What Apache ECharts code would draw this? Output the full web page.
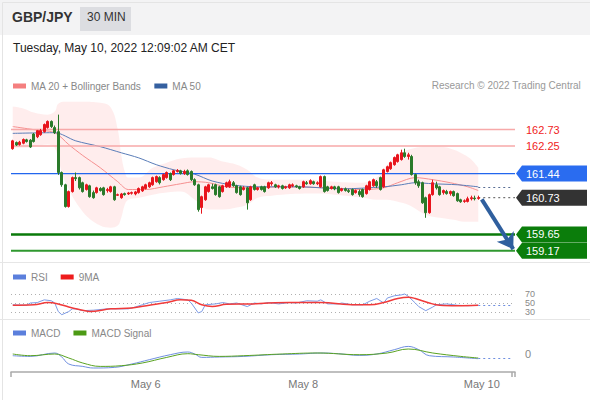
<!DOCTYPE html>
<html><head><meta charset="utf-8">
<script src="https://cdn.jsdelivr.net/npm/echarts@6/dist/echarts.min.js"></script>
<style>html,body{margin:0;padding:0;background:#fff}#c{width:590px;height:400px}</style>
</head><body><div id="c"></div>
<script>
// ---------- DATA ----------
const slotCount = 144;
const dayLabels = ['May 6', 'May 8', 'May 10'];
const dayLabelIdx = [38, 83, 134];

// [open, close, low, high]
const candles = [
[162.17,162.40,162.14,162.43],[162.35,162.28,162.25,162.38],[162.29,162.36,162.26,162.40],[162.33,162.44,162.30,162.47],[162.43,162.38,162.35,162.46],
[162.42,162.22,162.19,162.45],[162.60,162.38,162.35,162.63],[162.52,162.70,162.48,162.72],[162.58,162.70,162.55,162.75],[162.67,162.88,162.64,162.91],
[162.79,162.97,162.76,163.00],[162.97,162.82,162.78,163.00],[162.79,162.64,162.60,162.85],[162.67,161.47,161.40,163.17],[161.47,161.11,161.05,161.50],
[161.11,160.47,160.44,161.14],[160.47,160.91,160.44,160.94],[160.91,161.32,160.88,161.35],[161.32,161.29,161.22,161.47],[161.32,161.02,160.97,161.35],
[161.17,160.91,160.88,161.20],[160.97,161.11,160.94,161.14],[161.08,160.76,160.73,161.11],[160.88,160.73,160.70,160.94],[160.88,161.02,160.85,161.05],
[161.00,160.94,160.91,161.04],[161.02,160.82,160.79,161.05],[160.94,160.97,160.88,161.02],[160.91,161.05,160.88,161.08],[161.05,160.67,160.64,161.08],
[160.80,160.82,160.78,160.85],[160.73,160.84,160.70,160.87],[160.85,160.82,160.79,160.88],[160.84,160.87,160.81,160.90],[160.86,160.88,160.82,160.91],
[160.84,160.90,160.80,160.93],[160.88,161.00,160.85,161.03],[160.93,161.05,160.90,161.08],[161.00,161.11,160.97,161.14],[161.05,161.17,161.02,161.20],
[161.11,161.32,161.08,161.35],[161.20,161.35,161.17,161.38],[161.32,161.17,161.12,161.36],[161.26,161.41,161.23,161.44],[161.32,161.47,161.29,161.50],
[161.44,161.26,161.22,161.47],[161.41,161.52,161.38,161.55],[161.50,161.53,161.47,161.57],[161.52,161.44,161.41,161.55],[161.44,161.50,161.40,161.55],
[161.52,161.41,161.38,161.56],[161.50,161.26,161.22,161.53],[161.26,161.11,161.08,161.30],[161.11,160.38,160.32,161.14],[160.44,160.76,160.26,160.79],
[160.67,161.05,160.64,161.08],[160.91,161.11,160.88,161.14],[161.05,161.00,160.97,161.14],[161.11,160.82,160.79,161.14],[161.05,160.76,160.73,161.08],
[160.91,161.08,160.88,161.11],[161.05,161.17,161.02,161.20],[161.05,161.20,161.02,161.26],[161.17,161.08,161.05,161.22],[161.08,160.88,160.85,161.11],
[161.05,160.82,160.79,161.08],[160.97,161.02,160.94,161.07],[161.02,160.58,160.38,161.05],[160.67,161.05,160.64,161.08],[161.11,160.97,160.94,161.14],
[160.97,161.02,160.94,161.05],[161.05,160.97,160.94,161.08],[161.05,160.91,160.88,161.08],[161.02,161.17,160.99,161.20],[161.14,161.17,161.08,161.22],
[161.11,161.05,161.02,161.14],[161.05,161.08,161.00,161.11],[161.08,161.00,160.97,161.11],[161.02,161.05,160.99,161.08],[161.02,161.11,160.99,161.14],
[161.08,161.11,161.04,161.15],[161.08,161.05,161.02,161.11],[161.05,161.00,160.97,161.08],[161.05,161.20,161.02,161.23],[161.17,161.14,161.11,161.22],
[161.14,161.23,161.11,161.27],[161.20,161.14,161.11,161.23],[161.14,161.17,161.10,161.21],[161.05,161.35,161.02,161.38],[161.35,160.91,160.88,161.38],
[161.05,160.94,160.91,161.08],[161.00,161.05,160.97,161.08],[161.05,160.99,160.95,161.08],[161.05,160.88,160.85,161.08],[160.94,160.99,160.91,161.02],
[160.99,160.94,160.91,161.03],[160.94,160.91,160.87,160.99],[160.97,160.82,160.79,161.00],[160.88,160.94,160.85,160.97],[160.91,160.82,160.76,160.97],
[160.97,160.76,160.73,161.00],[160.85,161.08,160.82,161.11],[160.97,161.20,160.94,161.23],[161.08,161.26,161.05,161.29],[161.20,161.08,161.02,161.25],
[161.32,160.97,160.94,161.35],[161.05,161.55,161.02,161.58],[161.50,161.64,161.47,161.67],[161.58,161.76,161.55,161.79],[161.70,161.91,161.67,161.94],
[161.79,161.99,161.76,162.02],[161.85,162.05,161.82,162.14],[162.05,161.94,161.90,162.17],[161.94,161.99,161.85,162.05],[161.94,161.41,161.38,161.99],
[161.41,161.17,161.11,161.44],[161.20,161.08,161.02,161.26],[161.17,160.58,160.55,161.20],[160.73,160.29,160.14,160.76],[160.29,160.82,160.26,160.85],
[160.82,161.17,160.79,161.26],[161.11,161.02,160.97,161.20],[161.05,160.82,160.79,161.08],[160.88,160.94,160.82,160.97],[160.91,160.85,160.82,160.96],
[160.85,160.91,160.79,160.94],[160.91,160.79,160.76,160.94],[160.85,160.64,160.61,160.88],[160.67,160.61,160.58,160.70],[160.62,160.64,160.58,160.68],
[160.62,160.70,160.59,160.76],[160.70,160.73,160.65,160.79],[160.72,160.70,160.65,160.79],[160.71,160.73,160.67,160.79]
];

// [slot index, value]
const ma20 = [[0,162.82],[6,162.73],[12,162.64],[16,162.29],[20,161.97],[25,161.61],[30,161.20],[33,160.97],[38,160.97],[43,161.05],[48,161.14],[52,161.20],[56,161.17],[61,161.05],[67,161.02],[78,161.05],[90,161.02],[100,160.97],[106,161.02],[110,161.17],[115,161.32],[120,161.26],[125,161.17],[130,161.05],[133,160.94]];
const ma50 = [[0,162.62],[12,162.64],[18,162.40],[25,162.23],[31,162.05],[36,161.90],[41,161.70],[46,161.55],[52,161.42],[57,161.22],[63,161.10],[70,161.05],[82,161.05],[94,160.99],[106,161.05],[111,161.11],[115,161.17],[120,161.14],[127,161.11],[133,161.05]];
const bandIdx   = [0,3,6,10,12,13,15,20,25,28,30,31,32,33,36,40,44,48,52,56,60,64,67,70,74,85,92,100,104,107,110,113,118,122,126,129,131,133];
const bandUpper = [163.41,163.35,163.23,163.17,163.26,163.49,163.55,163.55,163.52,163.38,162.73,161.99,161.50,161.32,161.32,161.61,161.76,161.88,161.91,161.91,161.79,161.70,161.55,161.32,161.26,161.26,161.20,161.17,161.32,161.70,161.99,162.14,162.23,162.23,162.14,161.99,161.85,161.61];
const bandLower = [162.20,162.20,162.23,162.29,162.20,161.85,161.20,160.32,159.91,159.85,159.91,160.14,160.52,160.67,160.73,160.82,160.88,160.91,160.67,160.38,160.38,160.44,160.52,160.73,160.79,160.85,160.82,160.73,160.67,160.67,160.61,160.52,160.23,160.14,160.08,160.02,160.02,160.02];

const levelPrices = [162.73, 162.25, 161.44, 160.73, 159.65, 159.17];
const levelLabels = ['162.73', '162.25', '161.44', '160.73', '159.65', '159.17'];

const rsi = [[0,46],[4,45],[5,50],[7,51],[9,57],[11,55],[12,50],[13,31],[14,24],[16,31],[17,37],[18,37],[20,33],[23,34],[27,37],[30,37],[33,37],[35,41],[37,46],[39,51],[42,54],[45,57],[47,60],[50,57],[51,50],[53,28],[54,31],[55,46],[58,48],[60,51],[62,48],[64,50],[67,42],[69,50],[71,48],[73,51],[76,48],[79,51],[81,50],[84,55],[87,54],[88,57],[90,48],[93,48],[94,50],[97,46],[100,46],[102,54],[104,60],[106,50],[107,61],[109,66],[111,68],[112,70],[113,65],[115,50],[116,42],[118,33],[120,41],[121,46],[124,48],[127,45],[130,44],[133,45]];
const rsiMa = [[0,45],[6,46],[10,51],[13,48],[16,41],[20,34],[22,31],[28,37],[34,39],[39,45],[44,51],[48,57],[51,56],[54,46],[57,42],[61,47],[68,48],[73,50],[79,51],[88,51],[98,46],[102,46],[106,51],[110,60],[113,63],[115,60],[119,50],[122,45],[127,44],[133,45]];
const rsiTicks = [70, 50, 30];

const macd = [[0,-0.017],[5,-0.024],[12,0.010],[14,-0.03],[16,-0.10],[20,-0.124],[23,-0.140],[29,-0.134],[34,-0.100],[39,-0.057],[45,-0.007],[50,0.020],[52,0.000],[54,-0.034],[59,-0.030],[66,-0.024],[74,-0.007],[82,0.000],[88,0.010],[93,0.003],[99,-0.014],[104,0.000],[109,0.043],[113,0.076],[116,0.043],[119,-0.017],[126,-0.030],[133,-0.047]];
const macdSignal = [[0,0.000],[5,-0.017],[12,0.000],[16,-0.040],[20,-0.090],[25,-0.124],[31,-0.117],[37,-0.090],[44,-0.034],[50,0.003],[53,-0.007],[59,-0.024],[66,-0.017],[77,0.000],[87,0.010],[99,-0.007],[107,0.010],[113,0.050],[120,0.010],[128,-0.024],[133,-0.040]];

// ---------- STYLES ----------
const FONT = 'Arial, "Liberation Sans", sans-serif';
const levelStyles = [
  {line:'#f7a9a9', width:1.5, text:'#f01c1c'},
  {line:'#f7a9a9', width:1.5, text:'#f01c1c'},
  {line:'#2266ee', width:1.2, tag:'#2a6cf0', text:'#fff'},
  {line:'#555', width:1, dash:[2,3], fromLast:true, tag:'#333333', text:'#fff'},
  {line:'#0a7a0a', width:2.5, tag:'#0b7d0b', text:'#fff'},
  {line:'#2f982f', width:2, tag:'#0b7d0b', text:'#fff'}
];

// ---------- BUILD ----------
const categories = Array.from({length: slotCount}, (_, i) => {
  const k = dayLabelIdx.indexOf(i); return k >= 0 ? dayLabels[k] : '';
});
const lastIdx = candles.length - 1;
const lastClose = candles[lastIdx][1];
const bandLowData = bandIdx.map((x, i) => [x, bandLower[i]]);
const bandDiffData = bandIdx.map((x, i) => [x, +(bandUpper[i] - bandLower[i]).toFixed(4)]);

function projection(arr, color) {
  const v = arr[arr.length - 1][1];
  return {
    silent: true, symbol: ['none','none'], label: {show:false},
    lineStyle: {color: color, type: [2,3], width: 1},
    data: [[{coord:[arr[arr.length-1][0], v]}, {coord:[slotCount - 1, v]}]]
  };
}

function renderLevel(params, api) {
  const i = params.dataIndex;
  const st = levelStyles[i];
  const cs = params.coordSys;
  const pt = api.coord([api.value(0), api.value(1)]);
  const y = pt[1];
  const xr = cs.x + cs.width;
  const x0 = st.fromLast ? pt[0] : cs.x;
  const ch = [{type:'line', shape:{x1:x0, y1:y, x2:xr, y2:y},
    style:{stroke:st.line, lineWidth:st.width, lineDash: st.dash || null}}];
  if (st.tag) {
    ch.push({type:'polygon', shape:{points:[[xr+1,y],[xr+7,y-8],[xr+72,y-8],[xr+72,y+8],[xr+7,y+8]]},
      style:{fill:st.tag}});
  }
  ch.push({type:'text', x: xr+11, y: y, style:{text: levelLabels[i], fill: st.text,
    font: '11px ' + FONT, align:'left', verticalAlign:'middle'}});
  return {type:'group', children: ch};
}

const chart = echarts.init(document.getElementById('c'), null, {renderer:'svg'});
const gridL = 11, gridR = 75;
chart.setOption({
  animation: false,
  backgroundColor: '#fff',
  textStyle: {fontFamily: FONT},
  graphic: [
    {type:'rect', left:0, top:0, shape:{width:590, height:35}, style:{fill:'#f3f3f4'}, z:-10},
    {type:'rect', left:80, top:7, shape:{width:51, height:24}, style:{fill:'#dcdde1'}, z:-9},
    {type:'rect', left:0, top:0, shape:{width:589, height:399}, style:{fill:'none', stroke:'#e4e4e4', lineWidth:1}, z:-8},
    {type:'line', shape:{x1:0, y1:262.5, x2:590, y2:262.5}, style:{stroke:'#e6e6e6', lineWidth:1}},
    {type:'line', shape:{x1:0, y1:319.5, x2:590, y2:319.5}, style:{stroke:'#e6e6e6', lineWidth:1}}
  ],
  title: [
    {text:'GBP/JPY', left:7, top:5, textStyle:{fontSize:14, fontWeight:'bold', color:'#333', fontFamily:FONT}},
    {text:'30 MIN', left:82, top:6, textStyle:{fontSize:12, fontWeight:'normal', color:'#333', fontFamily:FONT}},
    {text:'Tuesday, May 10, 2022 12:09:02 AM CET', left:8, top:37, textStyle:{fontSize:12, fontWeight:'normal', color:'#222', fontFamily:FONT}},
    {text:'Research © 2022 Trading Central', right:4, top:75, textStyle:{fontSize:10, fontWeight:'normal', color:'#999', fontFamily:FONT}}
  ],
  legend: [
    {data:['MA 20 + Bollinger Bands','MA 50'], left:8, top:76, icon:'rect', itemWidth:13, itemHeight:5, itemGap:13,
     textStyle:{fontSize:10, color:'#888'}, selectedMode:false},
    {data:['RSI','9MA'], left:8, top:267, icon:'rect', itemWidth:13, itemHeight:5, itemGap:13,
     textStyle:{fontSize:10, color:'#888'}, selectedMode:false},
    {data:['MACD','MACD Signal'], left:8, top:323, icon:'rect', itemWidth:13, itemHeight:5, itemGap:13,
     textStyle:{fontSize:10, color:'#888'}, selectedMode:false}
  ],
  grid: [
    {left:gridL, right:gridR, top:100, height:160, outerBoundsMode:'none'},
    {left:gridL, right:gridR, top:294, height:18, outerBoundsMode:'none'},
    {left:gridL, right:gridR, top:340, height:32, outerBoundsMode:'none'}
  ],
  xAxis: [
    {type:'category', gridIndex:0, data:categories, show:false},
    {type:'category', gridIndex:1, data:categories, show:false},
    {type:'category', gridIndex:2, data:categories,
     axisLine:{onZero:false, lineStyle:{color:'#aaa', width:1.5}},
     axisTick:{show:true, interval:(i) => i === 0 || i === slotCount - 1, length:5, lineStyle:{color:'#aaa', width:1.5}},
     axisLabel:{interval:0, color:'#777', fontSize:11, margin:6}}
  ],
  yAxis: [
    {type:'value', gridIndex:0, min:158.9, max:163.6, show:false},
    {type:'value', gridIndex:1, min:30, max:70, show:false},
    {type:'value', gridIndex:2, min:-0.18, max:0.14, interval:0.02, position:'right',
     axisLine:{show:false}, axisTick:{show:false}, splitLine:{show:false},
     axisLabel:{color:'#888', fontSize:11, margin:10, formatter:(v) => Math.abs(v) < 1e-9 ? '0' : ''}}
  ],
  series: [
    {name:'bandLow', type:'line', xAxisIndex:0, yAxisIndex:0, stack:'bb', data:bandLowData,
     symbol:'none', smooth:0.4, lineStyle:{opacity:0}, silent:true, z:1},
    {name:'MA 20 + Bollinger Bands band', type:'line', xAxisIndex:0, yAxisIndex:0, stack:'bb', data:bandDiffData,
     symbol:'none', smooth:0.4, lineStyle:{opacity:0}, areaStyle:{color:'rgba(255,40,40,0.12)'}, silent:true, z:1},
    {name:'MA 20 + Bollinger Bands', type:'line', xAxisIndex:0, yAxisIndex:0, data:ma20, symbol:'none', smooth:0.3,
     color:'#f47f7f', lineStyle:{width:1, color:'#f59090'}, z:3},
    {name:'MA 50', type:'line', xAxisIndex:0, yAxisIndex:0, data:ma50, symbol:'none', smooth:0.3,
     color:'#3560a0', lineStyle:{width:1, color:'#5a7db8'}, z:3,
     markLine: projection(ma50, '#5a6f95')},
    {name:'levels', type:'custom', xAxisIndex:0, yAxisIndex:0, renderItem:renderLevel, clip:false, silent:true,
     data: levelPrices.map(p => [lastIdx, p]), z:4},
    {name:'GBP/JPY', type:'candlestick', xAxisIndex:0, yAxisIndex:0, data:candles, barWidth:2.5,
     itemStyle:{color:'#e8141c', color0:'#2a7a2a', borderColor:'#e8141c', borderColor0:'#2a7a2a', borderWidth:1}, z:5,
     markLine:{silent:true, symbol:['none','arrow'], symbolSize:[15,15], label:{show:false},
       lineStyle:{color:'#2f5f9e', width:4, type:'solid'},
       data:[[{coord:[lastIdx + 1, lastClose - 0.05]}, {coord:[slotCount - 1, levelPrices[5] + 0.05]}]]}},
    {name:'RSI', type:'line', xAxisIndex:1, yAxisIndex:1, data:rsi, symbol:'none', clip:false,
     color:'#5b7fdc', lineStyle:{width:1, color:'#7d9be6'}, markLine: projection(rsi, '#6f8fe0')},
    {name:'9MA', type:'line', xAxisIndex:1, yAxisIndex:1, data:rsiMa, symbol:'none', smooth:0.4, clip:false,
     color:'#ee1c1c', lineStyle:{width:1.5, color:'#f03a3a'},
     markLine:{silent:true, symbol:['none','none'], z:1,
       lineStyle:{color:'#b0b0b0', type:[1,3], width:1},
       label:{show:true, position:'end', distance:10, formatter:'{c}', color:'#888', fontSize:9, lineHeight:9, fontFamily:FONT},
       data: rsiTicks.map(v => ({yAxis: v}))}},
    {name:'MACD', type:'line', xAxisIndex:2, yAxisIndex:2, data:macd, symbol:'none', smooth:0.4, clip:false,
     color:'#5b7fdc', lineStyle:{width:1, color:'#6f8fe0'}, markLine: projection(macd, '#6f8fe0')},
    {name:'MACD Signal', type:'line', xAxisIndex:2, yAxisIndex:2, data:macdSignal, symbol:'none', smooth:0.4, clip:false,
     color:'#4c9a14', lineStyle:{width:1, color:'#5aa322'}}
  ]
});
</script></body></html>
